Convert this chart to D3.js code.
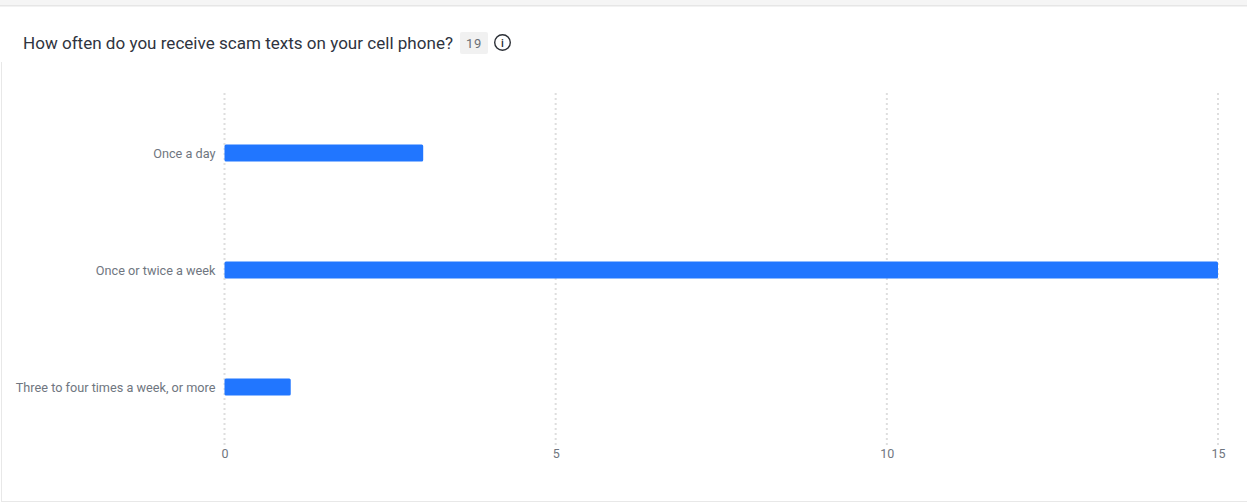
<!DOCTYPE html>
<html>
<head>
<meta charset="utf-8">
<script src="https://cdn.jsdelivr.net/npm/d3@7"></script>
<style>
html,body{margin:0;padding:0;background:#fff;overflow:hidden}
svg{display:block}
</style>
</head>
<body>
<svg id="chart" width="1247" height="502"></svg>
<script>
// Survey responses
const titleText = "How often do you receive scam texts on your cell phone?";
const responseCount = "19";
const categories = ["Once a day", "Once or twice a week", "Three to four times a week, or more"];
const counts = [3, 15, 1];
const tickValues = [0, 5, 10, 15];

const svg = d3.select("#chart");
const blue = "#2176ff";

// Page chrome: strip above the card, card edges
svg.append("rect").attr("x", 0).attr("y", 0).attr("width", 1247).attr("height", 5).attr("fill", "#f5f5f5");
svg.append("rect").attr("x", 0).attr("y", 5).attr("width", 1247).attr("height", 1.5).attr("fill", "#e6e6e6");
svg.append("rect").attr("x", 1).attr("y", 62).attr("width", 1).attr("height", 440).attr("fill", "#e8e8e8");
svg.append("rect").attr("x", 1).attr("y", 501).attr("width", 1246).attr("height", 1).attr("fill", "#e8e8e8");

// Header
svg.append("text").attr("x", 23).attr("y", 48.5)
  .attr("font-family", "'Roboto', sans-serif").attr("font-size", 17.4)
  .attr("fill", "#2f3440").attr("textLength", 430).attr("lengthAdjust", "spacingAndGlyphs")
  .text(titleText);
svg.append("rect").attr("x", 460).attr("y", 32).attr("width", 28).attr("height", 22).attr("rx", 2).attr("fill", "#f1f1f1");
svg.append("text").attr("x", 474).attr("y", 47.5).attr("text-anchor", "middle")
  .attr("font-family", "'Roboto', sans-serif").attr("font-size", 13).attr("letter-spacing", 0.6).attr("fill", "#6b6f76")
  .text(responseCount);
const info = svg.append("g").attr("transform", "translate(502.5,42.5)");
info.append("circle").attr("r", 7.8).attr("fill", "none").attr("stroke", "#2b2f36").attr("stroke-width", 1.4);
info.append("text").attr("y", 4).attr("text-anchor", "middle")
  .attr("font-family", "'Roboto', sans-serif").attr("font-size", 11).attr("font-weight", 500).attr("fill", "#2b2f36").text("i");

// Scales
const x = d3.scaleLinear().domain([0, 15]).range([224.5, 1218]);
const y = d3.scaleBand().domain(categories).range([95, 446]);
const barHeight = 17;

// Dotted vertical grid
svg.append("g").selectAll("line").data(tickValues).join("line")
  .attr("x1", d => x(d)).attr("x2", d => x(d))
  .attr("y1", 93).attr("y2", 445)
  .attr("stroke", "#dedede").attr("stroke-width", 2).attr("stroke-dasharray", "2 3");

// Value axis, labels only
const xAxis = svg.append("g").attr("transform", "translate(0,446.5)")
  .call(d3.axisBottom(x).tickValues(tickValues).tickSize(0).tickPadding(3));
xAxis.select(".domain").remove();
xAxis.selectAll("text").attr("font-family", "'Roboto', sans-serif").attr("font-size", 12.5).attr("fill", "#6f7680");

// Category axis, labels only
const yAxis = svg.append("g").attr("transform", "translate(224.5,0)")
  .call(d3.axisLeft(y).tickSize(0).tickPadding(9));
yAxis.select(".domain").remove();
yAxis.selectAll("text").attr("font-family", "'Roboto', sans-serif").attr("font-size", 12.7).attr("fill", "#6f7680");

// Bars, sitting half a pixel above the band centre
svg.append("g").selectAll("rect").data(categories).join("rect")
  .attr("x", x(0))
  .attr("y", d => y(d) + y.bandwidth() / 2 - barHeight / 2 - 0.5)
  .attr("width", (d, i) => x(counts[i]) - x(0))
  .attr("height", barHeight)
  .attr("rx", 1.5)
  .attr("fill", blue);
</script>
</body>
</html>
